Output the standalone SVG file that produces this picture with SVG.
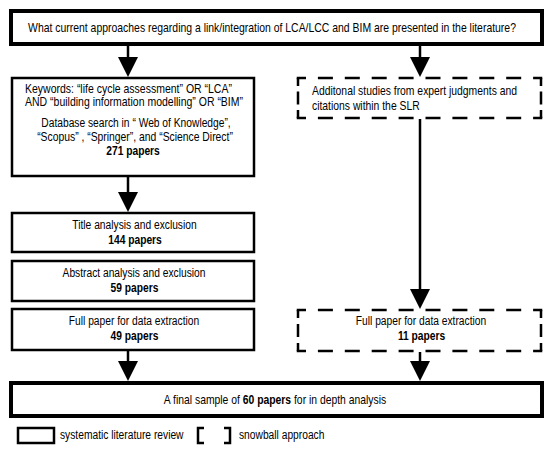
<svg xmlns="http://www.w3.org/2000/svg" width="550" height="449" viewBox="0 0 550 449">
<defs>
<style>
.bg{fill:#fff}
.box{fill:#fff;stroke:#000;stroke-width:2.5}
.thick{fill:#fff;stroke:#000;stroke-width:4}
.t{font-family:"Liberation Sans",Arial,sans-serif;font-size:12.5px;fill:#000}
.m{text-anchor:middle}
.b{font-weight:bold}
.dash{fill:none;stroke:#000;stroke-width:2.5}
.dh{stroke-dasharray:9.25 11.9 15 11.9 15 11.9 15 11.9 15 11.9 15 11.9 15 11.9 15 11.9 15 11.9 9.25 60}
.dv40{stroke-dasharray:8 5.5 13 5.5 8 60}
.dv41{stroke-dasharray:8 6 13 6 8 60}
.stem{stroke:#000;stroke-width:2.5;fill:none}
.lg{fill:none;stroke:#000;stroke-width:2.5}
</style>
<marker id="ah" viewBox="0 0 20 20" refX="10" refY="10" markerWidth="20" markerHeight="20" markerUnits="userSpaceOnUse" orient="auto">
<path d="M0,0 L20,10 L0,20 Z" fill="#000"/>
</marker>
</defs>
<rect width="550" height="449" class="bg"/>

<g id="n-question">
<rect class="thick" x="11" y="11" width="531" height="33"/>
<text class="t m" transform="matrix(0.835 0 0 1 272 32)">What current approaches regarding a link/integration of LCA/LCC and BIM are presented in the literature?</text>
</g>

<g id="n-keywords">
<rect class="box" x="12" y="78" width="242" height="98"/>
<text class="t" transform="matrix(0.84 0 0 1 25 93)">Keywords: “life cycle assessment” OR “LCA”</text>
<text class="t" transform="matrix(0.84 0 0 1 25 106)">AND “building information modelling” OR “BIM”</text>
<text class="t m" transform="matrix(0.82 0 0 1 136 127)">Database search in “ Web of Knowledge”,</text>
<text class="t m" transform="matrix(0.83 0 0 1 135 141)">“Scopus” , “Springer”, and “Science Direct”</text>
<text class="t m b" transform="matrix(0.82 0 0 1 133 155)">271 papers</text>
</g>

<g id="n-title">
<rect class="box" x="12" y="213" width="242" height="39"/>
<text class="t m" transform="matrix(0.82 0 0 1 134.5 229)">Title analysis and exclusion</text>
<text class="t m b" transform="matrix(0.82 0 0 1 135 244)">144 papers</text>
</g>

<g id="n-abstract">
<rect class="box" x="12" y="261" width="242" height="40"/>
<text class="t m" transform="matrix(0.82 0 0 1 134 277)">Abstract analysis and exclusion</text>
<text class="t m b" transform="matrix(0.82 0 0 1 134.5 292)">59 papers</text>
</g>

<g id="n-fullpaper-slr">
<rect class="box" x="12" y="309" width="242" height="41"/>
<text class="t m" transform="matrix(0.82 0 0 1 134 325)">Full paper for data extraction</text>
<text class="t m b" transform="matrix(0.82 0 0 1 134.5 340)">49 papers</text>
</g>

<g id="n-additional">
<rect class="bg" x="298" y="78" width="243" height="40"/>
<line class="dash dh" x1="296.75" y1="78" x2="542.25" y2="78"/>
<line class="dash dh" x1="296.75" y1="118" x2="542.25" y2="118"/>
<line class="dash dv40" x1="298" y1="78" x2="298" y2="118"/>
<line class="dash dv40" x1="541" y1="78" x2="541" y2="118"/>
<text class="t" transform="matrix(0.83 0 0 1 312 95)">Additonal studies from expert judgments and</text>
<text class="t" transform="matrix(0.83 0 0 1 312 110)">citations within the SLR</text>
</g>

<g id="n-fullpaper-snowball">
<rect class="bg" x="298" y="310" width="243" height="41"/>
<line class="dash dh" x1="296.75" y1="310" x2="542.25" y2="310"/>
<line class="dash dh" x1="296.75" y1="351" x2="542.25" y2="351"/>
<line class="dash dv41" x1="298" y1="310" x2="298" y2="351"/>
<line class="dash dv41" x1="541" y1="310" x2="541" y2="351"/>
<text class="t m" transform="matrix(0.82 0 0 1 421 325)">Full paper for data extraction</text>
<text class="t m b" transform="matrix(0.82 0 0 1 421.5 340)">11 papers</text>
</g>

<g id="n-final">
<rect class="thick" x="11" y="383" width="531" height="33"/>
<text class="t m" transform="matrix(0.83 0 0 1 275 404)">A final sample of <tspan class="b">60 papers</tspan> for in depth analysis</text>
</g>

<g id="connectors">
<line class="stem" x1="128" y1="45" x2="128" y2="67" marker-end="url(#ah)"/>
<line class="stem" x1="420" y1="45" x2="420" y2="67" marker-end="url(#ah)"/>
<line class="stem" x1="128" y1="177" x2="128" y2="202" marker-end="url(#ah)"/>
<line class="stem" x1="420" y1="119" x2="420" y2="299" marker-end="url(#ah)"/>
<line class="stem" x1="128" y1="351" x2="128" y2="371" marker-end="url(#ah)"/>
<line class="stem" x1="420" y1="352" x2="420" y2="371" marker-end="url(#ah)"/>
</g>

<g id="legend">
<rect class="lg" x="18" y="428" width="36" height="15"/>
<text class="t" transform="matrix(0.82 0 0 1 60 439)">systematic literature review</text>
<path class="lg" d="M204,428 H198 V443 H204"/>
<path class="lg" d="M224,428 H230 V443 H224"/>
<text class="t" transform="matrix(0.82 0 0 1 239 439)">snowball approach</text>
</g>
</svg>
